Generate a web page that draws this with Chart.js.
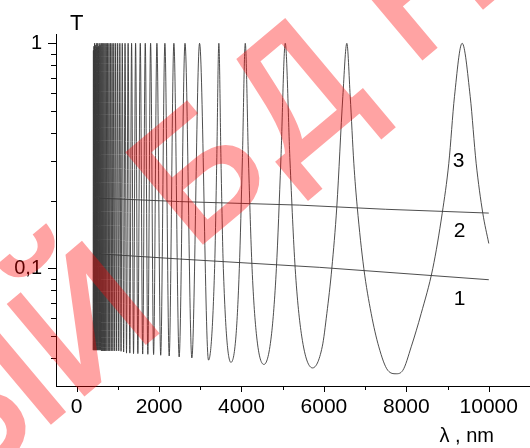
<!DOCTYPE html>
<html>
<head>
<meta charset="utf-8">
<script src="https://cdn.jsdelivr.net/npm/chart.js@4"></script>
<style>
  html, body { margin: 0; padding: 0; background: #fff; }
  #wrap { width: 530px; height: 448px; }
</style>
</head>
<body>
<div id="wrap"><canvas id="myChart"></canvas></div>
<script>
// curve 3 - maxima of the fringes (nm) and their height
const peakWl = [408, 420, 434, 448, 462, 478, 494, 511, 529, 549, 569, 590, 613, 637, 663, 691, 720, 751,
  785, 821, 860, 902, 947, 996, 1049, 1108, 1175, 1250, 1334, 1431, 1545, 1666, 1795, 1948, 2142, 2360,
  2630, 2983, 3451, 4092, 5062, 6556, 9354];
const peakT = [0.93, 0.97, 1, 0.94, 0.98, 1, 0.96, 1, 0.97, 1, 0.98, 1, 1, 1, 1, 1, 1, 1,
  1, 1, 1, 1, 1, 1, 1, 1, 1, 1, 1, 1, 1, 1, 1, 1, 1, 1,
  1, 1, 1, 1, 1, 1, 1];
// curve 3 - minima
const valleyWl = [400, 414, 427, 441, 455, 470, 486, 503, 520, 539, 558, 579, 602, 625, 650, 677, 705, 735,
  768, 803, 840, 880, 924, 971, 1022, 1078, 1141, 1211, 1291, 1381, 1486, 1603, 1728, 1868, 2040, 2246,
  2488, 2796, 3200, 3744, 4545, 5725, 7750];
const valleyT = [0.0433, 0.0433, 0.0433, 0.0433, 0.0433, 0.0433, 0.0433, 0.0433, 0.0433, 0.0433, 0.0433,
  0.0433, 0.043, 0.043, 0.043, 0.043, 0.043, 0.043, 0.043, 0.043, 0.043, 0.043, 0.043, 0.043, 0.043,
  0.0428, 0.0425, 0.042, 0.042, 0.0418, 0.0418, 0.0416, 0.0415, 0.0414, 0.0411, 0.0408,
  0.0404, 0.040, 0.0391, 0.0382, 0.0374, 0.0361, 0.034];
// curve 3 - points read on the flanks of the wide fringes
const flankWl = [3348, 3400, 3503, 3560,
  3866, 3948, 4021, 4170, 4257, 4367,
  4724, 4847, 4955, 5177, 5303, 5461,
  5959, 6071, 6192, 6313, 6459, 6638, 6726, 6808, 6968, 7147, 7332, 7551,
  7914, 8118, 8360, 8642, 8870, 9030, 9168, 9549, 9694, 9855, 10000];
const flankT = [0.1, 0.3, 0.3, 0.1,
  0.05, 0.1, 0.3, 0.3, 0.1, 0.05,
  0.05, 0.1, 0.3, 0.3, 0.1, 0.05,
  0.0448, 0.063, 0.1, 0.188, 0.581, 0.581, 0.293, 0.188, 0.1, 0.063, 0.0448, 0.0352,
  0.0352, 0.0448, 0.063, 0.1, 0.1757, 0.293, 0.581, 0.581, 0.293, 0.1757, 0.129];

// curves 1 and 2
const line1Wl = [550, 2500, 5900, 10000];
const line1T = [0.116, 0.110, 0.101, 0.089];
const line2Wl = [550, 2500, 5400, 7500, 10000];
const line2T = [0.205, 0.198, 0.191, 0.183, 0.176];

// axes
const xTicks = [0, 2000, 4000, 6000, 8000, 10000];
const xMinorTicks = [1000, 3000, 5000, 7000, 9000];
const yTicks = [0.1, 1];
const yTickLabels = ["0,1", "1"];
const yMinorTicks = [0.04, 0.05, 0.06, 0.07, 0.08, 0.09, 0.2, 0.3, 0.4, 0.5, 0.6, 0.7, 0.8, 0.9];

// curve numbers
const curveNames = ["1", "2", "3"];
const curveNameWl = [9290, 9290, 9270];
const curveNameT = [0.073, 0.1455, 0.3];

// build the curve 3 points, sorted by wavelength
function buildCurve3() {
  let pts = [];
  peakWl.forEach((w, i) => pts.push({ x: w, y: peakT[i] }));
  valleyWl.forEach((w, i) => pts.push({ x: w, y: valleyT[i] }));
  flankWl.forEach((w, i) => pts.push({ x: w, y: flankT[i] }));
  pts.sort((a, b) => a.x - b.x);
  return pts;
}

Chart.defaults.font.family = "'Liberation Sans', Arial, sans-serif";
Chart.defaults.color = "#000";

// red stamp, drawn opaque on its own canvas and then laid over the chart
function drawStamp(chart) {
  const off = document.createElement("canvas");
  off.width = chart.width;
  off.height = chart.height;
  const o = off.getContext("2d");
  o.fillStyle = "rgb(255, 0, 0)";
  o.strokeStyle = "rgb(255, 0, 0)";
  o.lineWidth = 4;
  o.font = "170px 'Liberation Sans', Arial, sans-serif";
  o.textBaseline = "alphabetic";
  const ang = (-40 * Math.PI) / 180;

  // middle part: "БД", anchored on the Б
  o.save();
  o.translate(239, 212);
  o.rotate(ang);
  o.letterSpacing = "10px";
  o.textAlign = "left";
  const halfB = o.measureText("Б").width / 2;
  o.fillText("БД", -halfB, 0);
  o.strokeText("БД", -halfB, 0);
  // last letter, mostly outside the picture
  const afterD = -halfB + o.measureText("БД").width + 40;
  o.fillText("Н", afterD, 0);
  o.strokeText("Н", afterD, 0);
  o.restore();

  // first part: "НЫЙ", set a little lower
  o.save();
  o.translate(239, 212);
  o.rotate(ang);
  o.translate(-halfB - 66, 40);
  o.textAlign = "right";
  o.fillText("НЫЙ", 0, 0);
  o.strokeText("НЫЙ", 0, 0);
  o.restore();

  const ctx = chart.ctx;
  ctx.save();
  ctx.globalAlpha = 0.36;
  ctx.drawImage(off, 0, 0, chart.width, chart.height);
  ctx.restore();
}

// tick marks, axis titles, curve numbers and the stamp
const extrasPlugin = {
  id: "extras",
  afterDraw(chart) {
    const ctx = chart.ctx;
    const xs = chart.scales.x;
    const ys = chart.scales.y;
    const area = chart.chartArea;
    ctx.save();
    ctx.strokeStyle = "#000";
    ctx.lineWidth = 1;
    ctx.beginPath();
    xTicks.forEach((v) => {
      const px = Math.round(xs.getPixelForValue(v)) + 0.5;
      ctx.moveTo(px, area.bottom);
      ctx.lineTo(px, area.bottom + 6);
    });
    xMinorTicks.forEach((v) => {
      const px = Math.round(xs.getPixelForValue(v)) + 0.5;
      ctx.moveTo(px, area.bottom);
      ctx.lineTo(px, area.bottom + 4);
    });
    yTicks.forEach((v) => {
      const py = Math.round(ys.getPixelForValue(v)) + 0.5;
      ctx.moveTo(area.left, py);
      ctx.lineTo(area.left - 8, py);
    });
    yMinorTicks.forEach((v) => {
      const py = Math.round(ys.getPixelForValue(v)) + 0.5;
      ctx.moveTo(area.left, py);
      ctx.lineTo(area.left - 5, py);
    });
    ctx.stroke();

    ctx.fillStyle = "#000";
    ctx.font = "22px 'Liberation Sans', Arial, sans-serif";
    ctx.textAlign = "left";
    ctx.textBaseline = "alphabetic";
    ctx.fillText("T", 70, 30);
    ctx.font = "20px 'Liberation Sans', Arial, sans-serif";
    ctx.textAlign = "right";
    ctx.fillText("λ , nm", 494, 442);

    ctx.font = "21px 'Liberation Sans', Arial, sans-serif";
    ctx.textAlign = "center";
    ctx.textBaseline = "middle";
    curveNames.forEach((t, i) => {
      ctx.fillText(t, xs.getPixelForValue(curveNameWl[i]), ys.getPixelForValue(curveNameT[i]));
    });
    ctx.restore();

    drawStamp(chart);
  },
};

const ctx = document.getElementById("myChart").getContext("2d");
new Chart(ctx, {
  type: "line",
  data: {
    datasets: [
      {
        label: "3",
        data: buildCurve3(),
        borderColor: "#3a3a3a",
        borderWidth: 0.9,
        pointRadius: 0,
        cubicInterpolationMode: "monotone",
        fill: false,
      },
      {
        label: "2",
        data: line2Wl.map((w, i) => ({ x: w, y: line2T[i] })),
        borderColor: "#3a3a3a",
        borderWidth: 0.9,
        pointRadius: 0,
        fill: false,
      },
      {
        label: "1",
        data: line1Wl.map((w, i) => ({ x: w, y: line1T[i] })),
        borderColor: "#3a3a3a",
        borderWidth: 0.9,
        pointRadius: 0,
        fill: false,
      },
    ],
  },
  options: {
    responsive: true,
    maintainAspectRatio: false,
    animation: false,
    events: [],
    layout: { padding: { top: 34, right: 0, left: 0, bottom: 0 } },
    plugins: {
      legend: { display: false },
      tooltip: { enabled: false },
    },
    scales: {
      x: {
        type: "linear",
        min: -500,
        max: 11000,
        afterBuildTicks: (scale) => {
          scale.ticks = xTicks.map((v) => ({ value: v }));
        },
        afterFit: (scale) => {
          scale.height = 62;
        },
        ticks: {
          maxRotation: 0,
          padding: 3,
          font: { size: 21 },
          color: "#000",
          callback: (v) => String(v),
        },
        grid: { display: false, drawTicks: true, tickLength: 6 },
        border: { display: true, color: "#000", width: 1 },
      },
      y: {
        type: "logarithmic",
        min: 0.03,
        max: 1.1,
        afterBuildTicks: (scale) => {
          scale.ticks = yTicks.map((v) => ({ value: v }));
        },
        afterFit: (scale) => {
          scale.width = 56;
        },
        ticks: {
          padding: 6,
          font: { size: 20 },
          color: "#000",
          callback: (v) => yTickLabels[yTicks.indexOf(v)],
        },
        grid: { display: false, drawTicks: true, tickLength: 8 },
        border: { display: true, color: "#000", width: 1 },
      },
    },
  },
  plugins: [extrasPlugin],
});
</script>
</body>
</html>
